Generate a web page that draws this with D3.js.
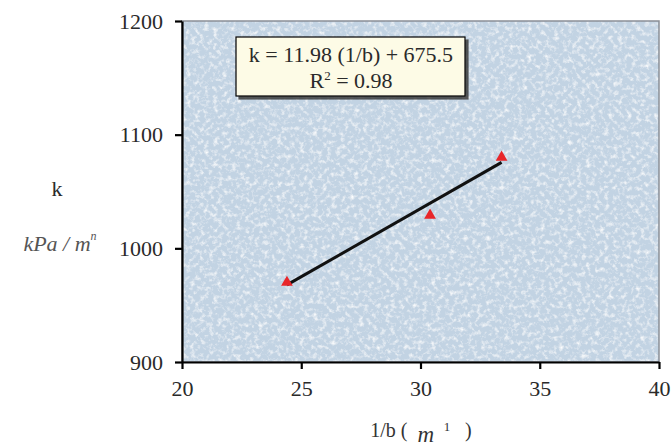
<!DOCTYPE html>
<html>
<head>
<meta charset="utf-8">
<script src="https://cdn.jsdelivr.net/npm/d3@7"></script>
<style>
  body { margin: 0; background: #fff; }
  svg { display: block; }
</style>
</head>
<body>
<svg width="672" height="448"></svg>
<script>
// data
var xVals = [24.4, 30.4, 33.4];
var kVals = [970, 1029, 1080];
var fitSlope = 11.98, fitIntercept = 675.5;
var xTicks = [20, 25, 30, 35, 40];
var yTicks = [900, 1000, 1100, 1200];

var svg = d3.select("svg"),
    width = +svg.attr("width"),
    height = +svg.attr("height");

var pLeft = 182, pRight = 659, pTop = 21, pBottom = 362;
var serif = "Liberation Serif, serif";

var x = d3.scaleLinear().domain([20, 40]).range([pLeft, pRight]);
var y = d3.scaleLinear().domain([900, 1200]).range([pBottom, pTop]);

var defs = svg.append("defs");
var f = defs.append("filter").attr("id", "tex")
    .attr("x", 0).attr("y", 0).attr("width", 1).attr("height", 1);
f.append("feTurbulence").attr("type", "fractalNoise")
    .attr("baseFrequency", "0.22").attr("numOctaves", 3).attr("seed", 7).attr("result", "n");
f.append("feColorMatrix").attr("in", "n").attr("type", "matrix")
    .attr("values", "0 0 0 0 1  0 0 0 0 1  0 0 0 0 1  2.0 0 0 0 -0.95")
    .attr("result", "w");
f.append("feComposite").attr("in", "w").attr("in2", "SourceGraphic").attr("operator", "over");

var shadow = defs.append("filter").attr("id", "sh");
shadow.append("feDropShadow").attr("dx", 3).attr("dy", 3).attr("stdDeviation", 0.6)
    .attr("flood-color", "#333").attr("flood-opacity", 0.8);

// plot area
svg.append("rect")
    .attr("x", pLeft).attr("y", pTop)
    .attr("width", pRight - pLeft).attr("height", pBottom - pTop)
    .attr("fill", "#c2d3e3")
    .attr("filter", "url(#tex)");
svg.append("rect")
    .attr("x", pLeft).attr("y", pTop)
    .attr("width", pRight - pLeft).attr("height", pBottom - pTop)
    .attr("fill", "none").attr("stroke", "#8a8f96").attr("stroke-width", 1.5);

var xAxis = svg.append("g")
    .attr("transform", "translate(0," + pBottom + ")")
    .call(d3.axisBottom(x).tickValues(xTicks).tickSize(7).tickSizeOuter(0).tickPadding(9));
var yAxis = svg.append("g")
    .attr("transform", "translate(" + pLeft + ",0)")
    .call(d3.axisLeft(y).tickValues(yTicks).tickFormat(d3.format("d"))
        .tickSize(7).tickSizeOuter(0).tickPadding(12));

[xAxis, yAxis].forEach(function(a) {
    a.select(".domain").attr("stroke", "#000").attr("stroke-width", 2.2);
    a.selectAll(".tick line").attr("stroke", "#000").attr("stroke-width", 2.2);
    a.selectAll("text")
        .attr("font-family", serif)
        .attr("font-size", 22)
        .attr("fill", "#2a2a2a");
});
xAxis.selectAll("text").attr("dy", "0.8em");

// trend line
var x0 = d3.min(xVals), x1 = d3.max(xVals);
svg.append("line")
    .attr("x1", x(x0)).attr("y1", y(fitSlope * x0 + fitIntercept))
    .attr("x2", x(x1)).attr("y2", y(fitSlope * x1 + fitIntercept))
    .attr("stroke", "#111").attr("stroke-width", 3);

// points
svg.append("g").selectAll("path")
    .data(xVals)
    .enter().append("path")
    .attr("d", d3.symbol().type(d3.symbolTriangle).size(60))
    .attr("transform", function(d, i) { return "translate(" + x(d) + "," + y(kVals[i]) + ")"; })
    .attr("fill", "#e8262a");

// equation box
var box = svg.append("g");
box.append("rect")
    .attr("x", 236).attr("y", 37).attr("width", 229).attr("height", 59)
    .attr("fill", "#fdfbe6").attr("stroke", "#000").attr("stroke-width", 1.2)
    .attr("filter", "url(#sh)");
box.append("text")
    .attr("x", 351).attr("y", 62)
    .attr("text-anchor", "middle")
    .attr("font-family", serif).attr("font-size", 22).attr("fill", "#2a2a2a")
    .text("k = 11.98 (1/b) + 675.5");
var r2 = box.append("text")
    .attr("x", 351).attr("y", 88)
    .attr("text-anchor", "middle")
    .attr("font-family", serif).attr("font-size", 22).attr("fill", "#2a2a2a");
r2.append("tspan").text("R");
r2.append("tspan").attr("font-size", 13).attr("dy", -8).text("2");
r2.append("tspan").attr("dy", 8).text(" = 0.98");

// axis titles
svg.append("text")
    .attr("x", 57).attr("y", 196)
    .attr("text-anchor", "middle")
    .attr("font-family", serif).attr("font-size", 22).attr("fill", "#2a2a2a")
    .text("k");
var yl = svg.append("text")
    .attr("x", 60).attr("y", 251)
    .attr("text-anchor", "middle")
    .attr("font-family", serif).attr("font-style", "italic")
    .attr("font-size", 22).attr("fill", "#555");
yl.append("tspan").text("kPa / m");
yl.append("tspan").attr("font-size", 12).attr("dy", -11).text("n");

var xl = svg.append("text")
    .attr("x", 421).attr("y", 437)
    .attr("text-anchor", "middle")
    .attr("font-family", serif).attr("font-size", 20).attr("fill", "#333")
    .attr("xml:space", "preserve");
xl.append("tspan").text("1/b (  ");
xl.append("tspan").attr("font-style", "italic").attr("font-size", 23).attr("dy", 5).text("m");
xl.append("tspan").attr("font-size", 13).attr("dy", -11).text("   1   ");
xl.append("tspan").attr("dy", 6).text(" )");
</script>
</body>
</html>
